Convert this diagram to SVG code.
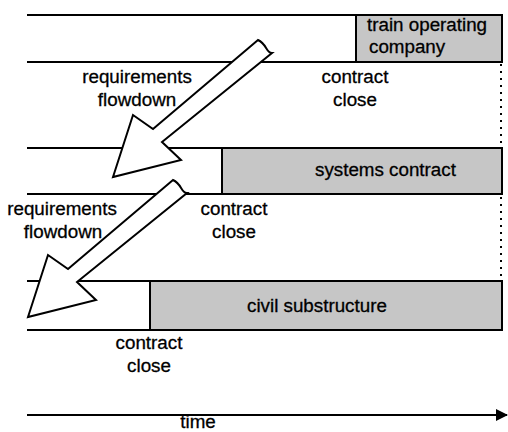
<svg xmlns="http://www.w3.org/2000/svg" width="508" height="432" viewBox="0 0 508 432">
  <style>
    .rule { stroke: #000; stroke-width: 2; fill: none; }
    .dots { stroke: #000; stroke-width: 2; stroke-dasharray: 2 5; fill: none; }
    .bar { fill: #c6c6c6; stroke: #000; stroke-width: 2; }
    .flow { fill: #fff; stroke: #000; stroke-width: 2; stroke-linejoin: miter; }
    text { font-family: "Liberation Sans", Arial, sans-serif; font-size: 18.8px; fill: #000; stroke: #000; stroke-width: 0.3; }
    .c { text-anchor: middle; }
  </style>
  <defs>
    <!-- hollow block arrow pointing down-left -->
    <path id="flowArrow" d="M258,40 L153,129 L133,115 L113,177 L181,160 L162,142 L272,53 C266,53 267,44 258,40 Z"/>
    <marker id="timeHead" viewBox="0 0 12 12" refX="11" refY="6" markerWidth="12" markerHeight="12" markerUnits="userSpaceOnUse" orient="auto">
      <path d="M0,0 L12,6 L0,12 Z" fill="#000"/>
    </marker>
  </defs>

  <!-- swimlane rules -->
  <g id="lanes">
    <line class="rule" x1="27" y1="15" x2="502" y2="15"/>
    <line class="rule" x1="27" y1="62" x2="502" y2="62"/>
    <line class="rule" x1="27" y1="148" x2="502" y2="148"/>
    <line class="rule" x1="27" y1="194" x2="222" y2="194"/>
    <line class="rule" x1="27" y1="281" x2="502" y2="281"/>
    <line class="rule" x1="27" y1="330" x2="502" y2="330"/>
    <line class="dots" x1="501" y1="64" x2="501" y2="281"/>
  </g>

  <g id="train-operating-company">
    <rect class="bar" x="356" y="15" width="146" height="47"/>
    <text x="367" y="31">train operating</text>
    <text x="369" y="53">company</text>
  </g>

  <g id="systems-contract">
    <rect class="bar" x="222" y="148" width="280" height="46"/>
    <text x="315" y="176">systems contract</text>
  </g>

  <g id="civil-substructure">
    <rect class="bar" x="150" y="281" width="352" height="49"/>
    <text x="247" y="312">civil substructure</text>
  </g>

  <g id="labels">
    <text class="c" x="137" y="83">requirements</text>
    <text class="c" x="137" y="106">flowdown</text>
    <text class="c" x="355" y="83">contract</text>
    <text class="c" x="355" y="106">close</text>
    <text class="c" x="62" y="215">requirements</text>
    <text class="c" x="63" y="238">flowdown</text>
    <text class="c" x="234" y="215">contract</text>
    <text class="c" x="234" y="238">close</text>
    <text class="c" x="149" y="349">contract</text>
    <text class="c" x="149" y="372">close</text>
    <text class="c" x="198" y="428">time</text>
  </g>

  <g id="connectors">
    <use href="#flowArrow" class="flow"/>
    <use href="#flowArrow" class="flow" transform="translate(-85,140)"/>
    <line class="rule" x1="27" y1="415" x2="507" y2="415" marker-end="url(#timeHead)"/>
  </g>
</svg>
